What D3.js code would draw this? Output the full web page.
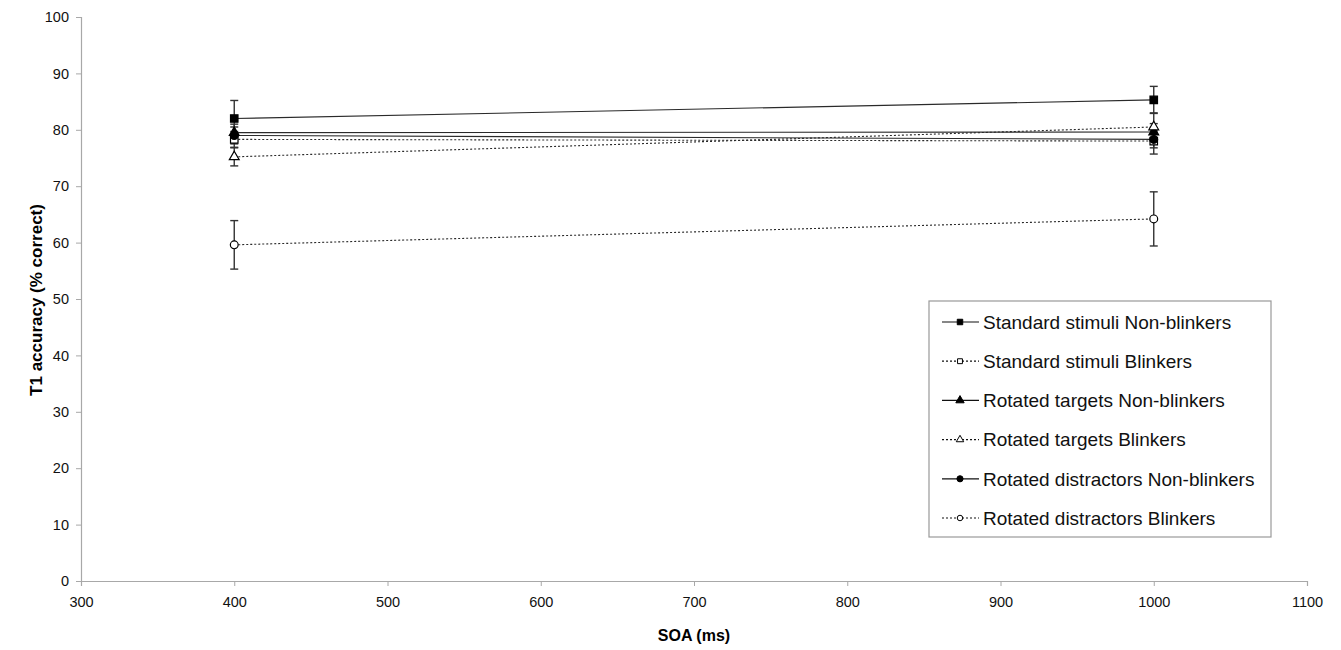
<!DOCTYPE html>
<html>
<head>
<meta charset="utf-8">
<script src="https://cdn.jsdelivr.net/npm/d3@7/dist/d3.min.js"></script>
<style>
body { margin: 0; background: #fff; }
text { font-family: "Liberation Sans", Arial, sans-serif; }
</style>
</head>
<body>
<svg id="svg"></svg>
<script>
var width = 1341, height = 650;
var svg = d3.select("#svg")
	.attr("width", width)
	.attr("height", height);

// data
var soa = [400, 1000];
var seriesNames = [
	"Standard stimuli Non-blinkers",
	"Standard stimuli Blinkers",
	"Rotated targets Non-blinkers",
	"Rotated targets Blinkers",
	"Rotated distractors Non-blinkers",
	"Rotated distractors Blinkers"
];
var stdNB = [82.0, 85.3], stdNBerr = [3.2, 2.4];
var stdB = [78.3, 78.0], stdBerr = [1.4, 2.3];
var rotTNB = [79.5, 79.6], rotTNBerr = [1.5, 1.5];
var rotTB = [75.2, 80.5], rotTBerr = [1.6, 2.5];
var rotDNB = [79.0, 78.3], rotDNBerr = [1.5, 1.5];
var rotDB = [59.6, 64.2], rotDBerr = [4.3, 4.8];
var xTicks = [300, 400, 500, 600, 700, 800, 900, 1000, 1100];
var yTicks = [0, 10, 20, 30, 40, 50, 60, 70, 80, 90, 100];

var series = [
	{ name: seriesNames[0], values: stdNB, err: stdNBerr, symbol: d3.symbolSquare, fill: "#000", dash: null },
	{ name: seriesNames[1], values: stdB, err: stdBerr, symbol: d3.symbolSquare, fill: "#fff", dash: "2,2" },
	{ name: seriesNames[2], values: rotTNB, err: rotTNBerr, symbol: d3.symbolTriangle, fill: "#000", dash: null },
	{ name: seriesNames[3], values: rotTB, err: rotTBerr, symbol: d3.symbolTriangle, fill: "#fff", dash: "2,2" },
	{ name: seriesNames[4], values: rotDNB, err: rotDNBerr, symbol: d3.symbolCircle, fill: "#000", dash: null },
	{ name: seriesNames[5], values: rotDB, err: rotDBerr, symbol: d3.symbolCircle, fill: "#fff", dash: "2,2" }
];

var margin = { left: 81, right: 34, top: 17, bottom: 69 };
var x = d3.scaleLinear().domain([300, 1100]).range([margin.left, width - margin.right]);
var y = d3.scaleLinear().domain([0, 100]).range([height - margin.bottom, margin.top]);

var axisColor = "#a8a8a8";

var xAxis = svg.append("g")
	.attr("transform", "translate(0," + y(0) + ")")
	.call(d3.axisBottom(x).tickValues(xTicks).tickSize(5).tickPadding(11).tickFormat(d3.format("d")));
var yAxis = svg.append("g")
	.attr("transform", "translate(" + x(300) + ",0)")
	.call(d3.axisLeft(y).tickValues(yTicks).tickSize(5).tickPadding(7).tickFormat(d3.format("d")));

[xAxis, yAxis].forEach(function(a) {
	a.select(".domain").attr("stroke", axisColor).attr("stroke-width", 1.2);
	a.selectAll(".tick line").attr("stroke", axisColor);
	a.selectAll(".tick text").attr("fill", "#111").attr("font-size", "14.5px")
		.attr("font-family", "'Liberation Sans', Arial, sans-serif");
});

svg.append("text")
	.attr("x", (x(300) + x(1100)) / 2)
	.attr("y", 641)
	.attr("text-anchor", "middle")
	.attr("font-size", "16px")
	.attr("font-weight", "bold")
	.text("SOA (ms)");

svg.append("text")
	.attr("transform", "translate(42," + (y(50) + 1) + ") rotate(-90)")
	.attr("text-anchor", "middle")
	.attr("font-size", "17px")
	.attr("font-weight", "bold")
	.text("T1 accuracy (% correct)");

var line = d3.line()
	.x(function(d, i) { return x(soa[i]); })
	.y(function(d) { return y(d); });

var sym = function(s, size) { return d3.symbol().type(s).size(size)(); };
var symSize = function(s) { return s === d3.symbolCircle ? 48 : (s === d3.symbolTriangle ? 42 : 56); };

// lines
series.forEach(function(s) {
	svg.append("path")
		.datum(s.values)
		.attr("d", line)
		.attr("fill", "none")
		.attr("stroke", "#2a2a2a")
		.attr("stroke-width", 1.1)
		.attr("stroke-dasharray", s.dash);
});

// error bars
series.forEach(function(s) {
	s.values.forEach(function(v, i) {
		var cx = x(soa[i]);
		var g = svg.append("g").attr("stroke", "#333").attr("stroke-width", 1.4);
		g.append("line").attr("x1", cx).attr("x2", cx).attr("y1", y(v + s.err[i])).attr("y2", y(v - s.err[i]));
		g.append("line").attr("x1", cx - 4).attr("x2", cx + 4).attr("y1", y(v + s.err[i])).attr("y2", y(v + s.err[i]));
		g.append("line").attr("x1", cx - 4).attr("x2", cx + 4).attr("y1", y(v - s.err[i])).attr("y2", y(v - s.err[i]));
	});
});

// markers
series.forEach(function(s) {
	svg.selectAll(null)
		.data(s.values)
		.enter().append("path")
		.attr("transform", function(d, i) { return "translate(" + x(soa[i]) + "," + y(d) + ")"; })
		.attr("d", sym(s.symbol, symSize(s.symbol)))
		.attr("fill", s.fill)
		.attr("stroke", "#000")
		.attr("stroke-width", 1.2);
});

// legend
var lx = 929, ly = 301, lw = 342, lh = 236;
var legend = svg.append("g");
legend.append("rect")
	.attr("x", lx).attr("y", ly).attr("width", lw).attr("height", lh)
	.attr("fill", "#fff").attr("stroke", "#999").attr("stroke-width", 1.2);

var item = legend.selectAll(".item")
	.data(series)
	.enter().append("g")
	.attr("class", "item")
	.attr("transform", function(d, i) { return "translate(" + lx + "," + (ly + 21 + i * 39.2) + ")"; });

item.append("line")
	.attr("x1", 13).attr("x2", 50)
	.attr("stroke", "#111").attr("stroke-width", 1.2)
	.attr("stroke-dasharray", function(d) { return d.dash; });
item.append("path")
	.attr("transform", "translate(31,0)")
	.attr("d", function(d) { return sym(d.symbol, d.fill === "#000" ? 30 : 24); })
	.attr("fill", function(d) { return d.fill; })
	.attr("stroke", "#000").attr("stroke-width", 1);
item.append("text")
	.attr("x", 54)
	.attr("dy", "0.36em")
	.attr("font-size", "19px")
	.attr("fill", "#111")
	.text(function(d) { return d.name; });
</script>
</body>
</html>
